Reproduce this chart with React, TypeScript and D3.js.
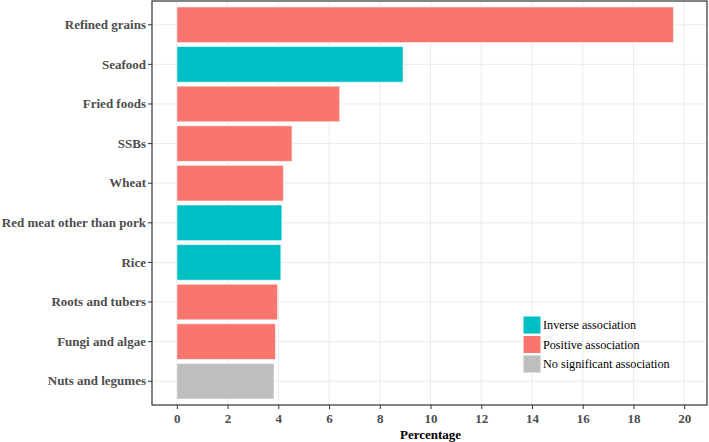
import React, { useEffect, useRef } from "react";
import * as d3 from "d3";

const foods = [
  "Refined grains",
  "Seafood",
  "Fried foods",
  "SSBs",
  "Wheat",
  "Red meat other than pork",
  "Rice",
  "Roots and tubers",
  "Fungi and algae",
  "Nuts and legumes",
];
const percentages = [19.58, 8.92, 6.42, 4.54, 4.2, 4.14, 4.1, 3.97, 3.89, 3.83];
const associations = [
  "Positive association",
  "Inverse association",
  "Positive association",
  "Positive association",
  "Positive association",
  "Inverse association",
  "Inverse association",
  "Positive association",
  "Positive association",
  "No significant association",
];
const legendLabels = ["Inverse association", "Positive association", "No significant association"];
const legendColors = ["#00BFC4", "#F8766D", "#BEBEBE"];
const xTicks = [0, 2, 4, 6, 8, 10, 12, 14, 16, 18, 20];

const FONT = "Liberation Serif";

const App = () => {
  const ref = useRef<SVGSVGElement>(null);

  useEffect(() => {
    const width = 709;
    const height = 442;
    const margin = { top: 1, right: 2, bottom: 37, left: 152 };
    const innerW = width - margin.left - margin.right;
    const innerH = height - margin.top - margin.bottom;

    const svg = d3.select(ref.current);
    svg.selectAll("*").remove();

    const data = foods.map((f, i) => ({ food: f, pct: percentages[i], assoc: associations[i] }));
    const color = d3.scaleOrdinal<string, string>().domain(legendLabels).range(legendColors);

    const x = d3.scaleLinear().domain([-0.98, 20.9]).range([0, innerW]);
    const y = d3.scaleBand().domain(foods).range([0, innerH]).paddingInner(0.1).paddingOuter(0.15);

    const g = svg.append("g").attr("transform", `translate(${margin.left},${margin.top})`);

    // gridlines
    g.selectAll(".vgrid")
      .data(xTicks)
      .enter()
      .append("line")
      .attr("x1", (d) => x(d))
      .attr("x2", (d) => x(d))
      .attr("y1", 0)
      .attr("y2", innerH)
      .attr("stroke", "#ebebeb")
      .attr("stroke-width", 1);

    g.selectAll(".hgrid")
      .data(foods)
      .enter()
      .append("line")
      .attr("x1", 0)
      .attr("x2", innerW)
      .attr("y1", (d) => y(d)! + y.bandwidth() / 2)
      .attr("y2", (d) => y(d)! + y.bandwidth() / 2)
      .attr("stroke", "#ebebeb")
      .attr("stroke-width", 1);

    // bars
    g.selectAll(".bar")
      .data(data)
      .enter()
      .append("rect")
      .attr("x", x(0))
      .attr("y", (d) => y(d.food)!)
      .attr("width", (d) => x(d.pct) - x(0))
      .attr("height", y.bandwidth())
      .attr("fill", (d) => color(d.assoc))
      .attr("stroke", "#ffffff")
      .attr("stroke-opacity", 0.6)
      .attr("stroke-width", 1);

    // panel border
    g.append("rect")
      .attr("x", 0)
      .attr("y", 0)
      .attr("width", innerW)
      .attr("height", innerH)
      .attr("fill", "none")
      .attr("stroke", "#333333")
      .attr("stroke-width", 1.2);

    // y axis
    const yAxis = g.append("g").call(d3.axisLeft(y).tickSize(4).tickSizeOuter(0).tickPadding(2));
    yAxis.attr("font-family", FONT).attr("font-size", 13);
    yAxis.select(".domain").remove();
    yAxis.selectAll("line").attr("stroke", "#333333");
    yAxis
      .selectAll("text")
      .attr("fill", "#4d4d4d")
      .attr("font-weight", "bold");

    // x axis
    const xAxis = g
      .append("g")
      .attr("transform", `translate(0,${innerH})`)
      .call(d3.axisBottom(x).tickValues(xTicks).tickSize(4).tickSizeOuter(0).tickPadding(5));
    xAxis.attr("font-family", FONT).attr("font-size", 13);
    xAxis.select(".domain").remove();
    xAxis.selectAll("line").attr("stroke", "#333333");
    xAxis
      .selectAll("text")
      .attr("fill", "#4d4d4d")
      .attr("font-weight", "bold");

    g.append("text")
      .attr("x", x(10))
      .attr("y", innerH + 34)
      .attr("text-anchor", "middle")
      .attr("font-family", FONT)
      .attr("font-size", 13)
      .attr("font-weight", "bold")
      .attr("fill", "#000")
      .text("Percentage");

    // legend
    const legend = g.append("g").attr("transform", `translate(${523 - margin.left},${316 - margin.top})`);
    legendLabels.forEach((lab, i) => {
      legend
        .append("rect")
        .attr("x", 0)
        .attr("y", i * 19.5)
        .attr("width", 18)
        .attr("height", 18)
        .attr("fill", legendColors[i])
        .attr("stroke", "#fff")
        .attr("stroke-width", 1);
      legend
        .append("text")
        .attr("x", 20)
        .attr("y", i * 19.5 + 9)
        .attr("dy", "0.35em")
        .attr("font-family", FONT)
        .attr("font-size", 12.2)
        .attr("fill", "#000")
        .text(lab);
    });
  }, []);

  return (
    <svg
      ref={ref}
      width={709}
      height={442}
      style={{ position: "absolute", left: 0, top: 0, background: "#fff" }}
    ></svg>
  );
};

export default App;
